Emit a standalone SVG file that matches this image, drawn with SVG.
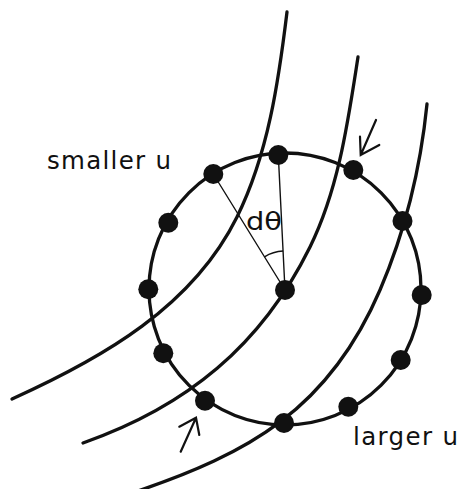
<svg xmlns="http://www.w3.org/2000/svg" width="460" height="489" viewBox="0 0 460 489">
<style>
.curve{fill:none;stroke:#111;stroke-width:3.3;stroke-linecap:round}
.thin{fill:none;stroke:#111;stroke-width:1.4}
.arrow{fill:none;stroke:#111;stroke-width:2.2;stroke-linecap:round;stroke-linejoin:miter}
.dot{fill:#111}
.lbl{font-family:"DejaVu Sans","Liberation Sans",sans-serif;font-size:24.5px;fill:#111}
</style>
<rect width="460" height="489" fill="#fff"/>
<g id="connectors">
<path class="curve" d="M287,12 C278.6,81.3 268.1,154.3 237,217 C192.6,306.6 103.2,357.9 12,399"/>
<path class="curve" d="M358,57 C348,121.2 338.8,188.8 310,247 C261.3,345.6 186.8,406.6 83,443"/>
<path class="curve" d="M427,104 C420.6,167.7 405.2,231.2 380,290 C328.8,409.5 248.6,453.6 135,492"/>
<circle class="curve" cx="285" cy="289" r="136"/>
<path class="thin" d="M285,290 L278.3,155 M285,290 L213.3,174"/>
<path class="thin" d="M264.5,256.8 A39,39 0 0 1 283.1,251.05"/>
<path class="arrow" d="M376,120 L360.7,155 M360,136.7 L360.7,155 L379.3,145"/>
<path class="arrow" d="M180.7,451.7 L196,417.7 M179.3,426.7 L196,417.7 L199.3,435"/>
</g>
<g id="n-center"><circle class="dot" cx="285" cy="290" r="10"/></g>
<g id="n1"><circle class="dot" cx="278.3" cy="155" r="10"/></g>
<g id="n2"><circle class="dot" cx="353.3" cy="170" r="10"/></g>
<g id="n3"><circle class="dot" cx="402.5" cy="221" r="10"/></g>
<g id="n4"><circle class="dot" cx="421.7" cy="295" r="10"/></g>
<g id="n5"><circle class="dot" cx="400.7" cy="360" r="10"/></g>
<g id="n6"><circle class="dot" cx="348.3" cy="406.7" r="10"/></g>
<g id="n7"><circle class="dot" cx="284" cy="423" r="10"/></g>
<g id="n8"><circle class="dot" cx="205" cy="400.7" r="10"/></g>
<g id="n9"><circle class="dot" cx="163.3" cy="353.3" r="10"/></g>
<g id="n10"><circle class="dot" cx="148.3" cy="289.3" r="10"/></g>
<g id="n11"><circle class="dot" cx="168.3" cy="222.7" r="10"/></g>
<g id="n12"><circle class="dot" cx="213.3" cy="174" r="10"/></g>
<g id="labels">
<text class="lbl" x="47" y="169" textLength="124" lengthAdjust="spacing">smaller u</text>
<text class="lbl" x="353" y="445" textLength="105" lengthAdjust="spacing">larger u</text>
<text class="lbl" x="246" y="230" font-family="Liberation Sans, sans-serif" font-size="24" textLength="36" lengthAdjust="spacingAndGlyphs">dθ</text>
</g>
</svg>
